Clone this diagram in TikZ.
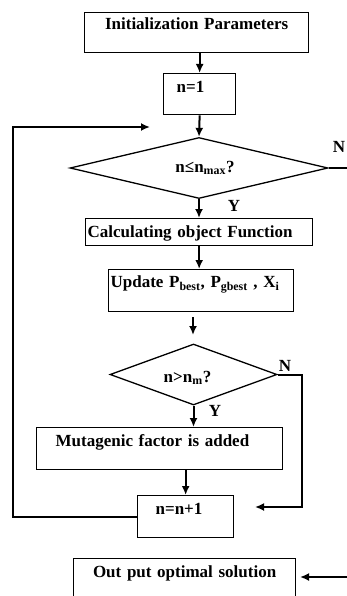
\documentclass[tikz,border=0pt]{standalone}
\usepackage{fontspec}
\setmainfont{Liberation Serif}
\usetikzlibrary{shapes.geometric}
\usetikzlibrary{arrows.meta}

\begin{document}
\begin{tikzpicture}[
                          x=1pt, y=-1pt,
                          >={Latex[length=9pt,width=8pt]},
                          flowbox/.style={rectangle, draw, line width=1.3pt, inner ysep=0pt, anchor=north west, align=left, font=\fontsize{17}{20}\selectfont\bfseries},
                          decision/.style={diamond, draw, line width=1.3pt, inner sep=0pt},
                          flowtext/.style={font=\fontsize{17}{20}\selectfont\bfseries, inner sep=0pt},
                          flowline/.style={line width=2pt},
                      ]
                      \clip (0,0) rectangle (347,596);
                      % Nodes
                      \node[flowbox, align=center, inner xsep=0pt, text width=224pt, text height=17pt, text depth=23pt] (init) at (84,12) {Initialization Parameters};
                      \node[flowbox, inner xsep=13pt, text width=46pt, text height=19pt, text depth=22pt] (n_1) at (163,73) {n=1};
                      \node[decision, minimum width=258pt, minimum height=61pt, label={[flowtext, anchor=base, xshift=6pt]center:{n≤n\textsubscript{max}?}}] (cond_1) at (199,168) {};
                      \node[flowbox, inner xsep=2pt, text width=223pt, text height=19pt, text depth=8pt] (calc) at (85,218) {Calculating object Function};
                      \node[flowbox, inner xsep=2pt, text width=181pt, text height=18pt, text depth=24pt] (update) at (108,269) {Update P\textsubscript{best}, P\textsubscript{gbest} , X\textsubscript{i}};
                      \coordinate (gap_top) at (193,317);
                      \coordinate (gap_bottom) at (193,335);
                      \node[decision, minimum width=167pt, minimum height=61pt, label={[flowtext, anchor=base, xshift=-6pt, yshift=-3.5pt]center:{n>n\textsubscript{m}?}}] (cond_2) at (193.5,374.5) {};
                      \node[flowbox, inner xsep=19pt, text width=208pt, text height=19pt, text depth=23pt] (mutate) at (36,427) {Mutagenic factor is added};
                      \node[flowbox, inner xsep=18pt, text width=60pt, text height=19pt, text depth=23pt] (n_next) at (137,495) {n=n+1};
                      \node[flowbox, align=center, inner xsep=0pt, text width=222pt, text height=19pt, text depth=40pt] (output) at (73,558) {Out put optimal solution};

                      \node[flowtext] (no_1) at (339,147) {N};
                      \node[flowtext] (yes_1) at (234,206) {Y};
                      \node[flowtext] (no_2) at (285,366) {N};
                      \node[flowtext] (yes_2) at (215,411) {Y};

                      \coordinate (loop_corner) at (13,127);
                      \coordinate (loop_end) at (150,127);
                      \coordinate (exit_1) at (347,168);
                      \coordinate (jump_corner) at (302,507);
                      \coordinate (jump_end) at (255,507);
                      \coordinate (out_start) at (347,577);
                      \coordinate (out_end) at (300,577);

                      %Lines
                      \draw[flowline, ->] (n_1.north |- init.south) -- (n_1.north);
                      \draw[flowline, ->] (n_1.south) -- (cond_1.north);
                      \draw[flowline, ->] (cond_1.south) -- (cond_1.south |- calc.north);
                      \draw[flowline, ->] (calc.south) -- (calc.south |- update.north);
                      \draw[flowline, ->] (gap_top) -- (gap_bottom);
                      \draw[flowline, ->] (cond_2.south) -- (cond_2.south |- mutate.north);
                      \draw[flowline, ->] (n_next.north |- mutate.south) -- (n_next.north);
                      \draw[flowline, ->] (n_next.west) -| (loop_corner) -- (loop_end);
                      \draw[flowline] (cond_1.east) -- (exit_1);
                      \draw[flowline, ->] (cond_2.east) -| (jump_corner) -- (jump_end);
                      \draw[flowline, ->] (out_start) -- (out_end);
                  \end{tikzpicture}
\end{document}
